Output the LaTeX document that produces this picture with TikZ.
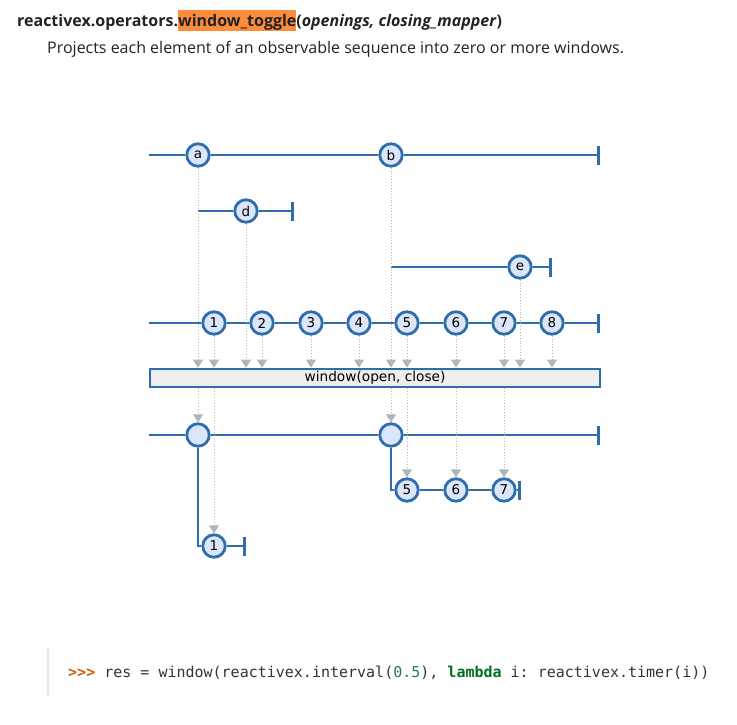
\documentclass[tikz,border=0pt]{standalone}
\usepackage{fontspec}
\setmainfont{Open Sans}
\newfontfamily\marblefont{DejaVu Sans}
\newfontfamily\codefont{DejaVu Sans Mono}
\usetikzlibrary{arrows.meta}
\definecolor{rxblue}{HTML}{2F6EAC}
\definecolor{rxfill}{HTML}{DCE6FA}
\definecolor{rxgray}{HTML}{B4B4B4}
\definecolor{boxgray}{HTML}{EEEEEE}
\definecolor{hiorange}{HTML}{FB8C3C}
\definecolor{promptc}{HTML}{C65D09}
\definecolor{numc}{HTML}{208050}
\definecolor{kwc}{HTML}{007020}
\definecolor{codetext}{HTML}{333333}
\definecolor{textc}{HTML}{222222}
\frenchspacing
\begin{document}
\begin{tikzpicture}[x=1pt,y=-1pt,
  marble/.style={circle,draw=rxblue,fill=rxfill,line width=2.8pt,minimum size=22.5pt,inner sep=0pt,font=\marblefont\fontsize{13.5}{14}\selectfont},
  tline/.style={draw=rxblue,line width=2.8pt},
  endtick/.style={tline,-{Bar[width=19pt,line width=2.8pt]}},
  dotarrow/.style={draw=rxgray,line width=0.9pt,dotted,-{Triangle[width=10pt,length=8pt]}},
  opbox/.style={rectangle,draw=rxblue,fill=boxgray,line width=2.8pt,minimum width=450pt,minimum height=18pt,inner sep=0pt,font=\marblefont\fontsize{13.7}{14}\selectfont}
]
\useasboundingbox (0,0) rectangle (737,724);

% title
\node[anchor=base west,inner sep=0pt,text=textc,font=\fontsize{16}{19}\selectfont\bfseries] (title) at (17,26)
  {reactivex.operators.{\setlength{\fboxsep}{0pt}\colorbox{hiorange}{\rule[-5pt]{0pt}{21pt}window\_toggle}}(\textit{openings, closing\_mapper})};
\node[anchor=base west,inner sep=0pt,text=textc,font=\fontsize{16}{19}\selectfont] (subtitle) at (47,53)
  {Projects each element of an observable sequence into zero or more windows.};

% row 1 : openings
\coordinate (s1) at (149,155);
\coordinate (e1) at (600,155);
\node[marble] (a) at (198,155) {a};
\node[marble] (b) at (391,155) {b};
\draw[tline] (s1) -- (a);
\draw[tline] (a) -- (b);
\draw[endtick] (b) -- (e1);

% row 2 : closing of a
\coordinate (s2) at (198,211);
\coordinate (e2) at (294,211);
\node[marble] (d) at (246,211) {d};
\draw[tline] (s2) -- (d);
\draw[endtick] (d) -- (e2);

% row 3 : closing of b
\coordinate (s3) at (391,267);
\coordinate (e3) at (552,267);
\node[marble] (e) at (520,267) {e};
\draw[tline] (s3) -- (e);
\draw[endtick] (e) -- (e3);

% row 4 : source
\coordinate (s4) at (149,323);
\coordinate (e4) at (600,323);
\foreach \i/\x in {1/214,2/262,3/311,4/359,5/407,6/456,7/504,8/552}
  \node[marble] (m\i) at (\x,323) {\i};
\draw[tline] (s4) -- (m1) -- (m2) -- (m3) -- (m4) -- (m5) -- (m6) -- (m7) -- (m8);
\draw[endtick] (m8) -- (e4);

% operator box
\node[opbox] (op) at (375,378) {window(open, close)};

% dotted arrows into the box
\foreach \n in {a,b,d,e,m1,m2,m3,m4,m5,m6,m7,m8}
  \draw[dotarrow] (\n) -- (\n |- op.north);

% output row
\coordinate (s5) at (149,435);
\coordinate (e5) at (600,435);
\node[marble] (o1) at (198,435) {};
\node[marble] (o2) at (391,435) {};
\draw[tline] (s5) -- (o1) -- (o2);
\draw[endtick] (o2) -- (e5);

% window 1
\node[marble] (w1) at (214,546) {1};
\coordinate (c1) at (198,546);
\coordinate (t1) at (246,546);
\draw[tline] (o1) -- (c1) -- (w1);
\draw[endtick] (w1) -- (t1);

% window 2
\node[marble] (w5) at (407,490) {5};
\node[marble] (w6) at (456,490) {6};
\node[marble] (w7) at (504,490) {7};
\coordinate (c2) at (391,490);
\coordinate (t2) at (521,490);
\draw[tline] (o2) -- (c2) -- (w5) -- (w6) -- (w7);
\draw[endtick] (w7.east) -- (t2);

% dotted arrows out of the box
\draw[dotarrow] (op.south -| o1) -- (o1);
\draw[dotarrow] (op.south -| o2) -- (o2);
\draw[dotarrow] (op.south -| w1) -- (w1);
\draw[dotarrow] (op.south -| w5) -- (w5);
\draw[dotarrow] (op.south -| w6) -- (w6);
\draw[dotarrow] (op.south -| w7) -- (w7);

% code line
\coordinate (cb1) at (48,649);
\coordinate (cb2) at (48,697);
\draw[draw=black!10,line width=2pt] (cb1) -- (cb2);
\node[anchor=base west,inner sep=0pt,text=codetext,font=\codefont\fontsize{15}{18}\selectfont] (code) at (68,677)
  {\textcolor{promptc}{\bfseries>{}>{}>} res = window(reactivex.interval(\textcolor{numc}{0.5}), \textcolor{kwc}{\bfseries lambda} i: reactivex.timer(i))};
\end{tikzpicture}
\end{document}
